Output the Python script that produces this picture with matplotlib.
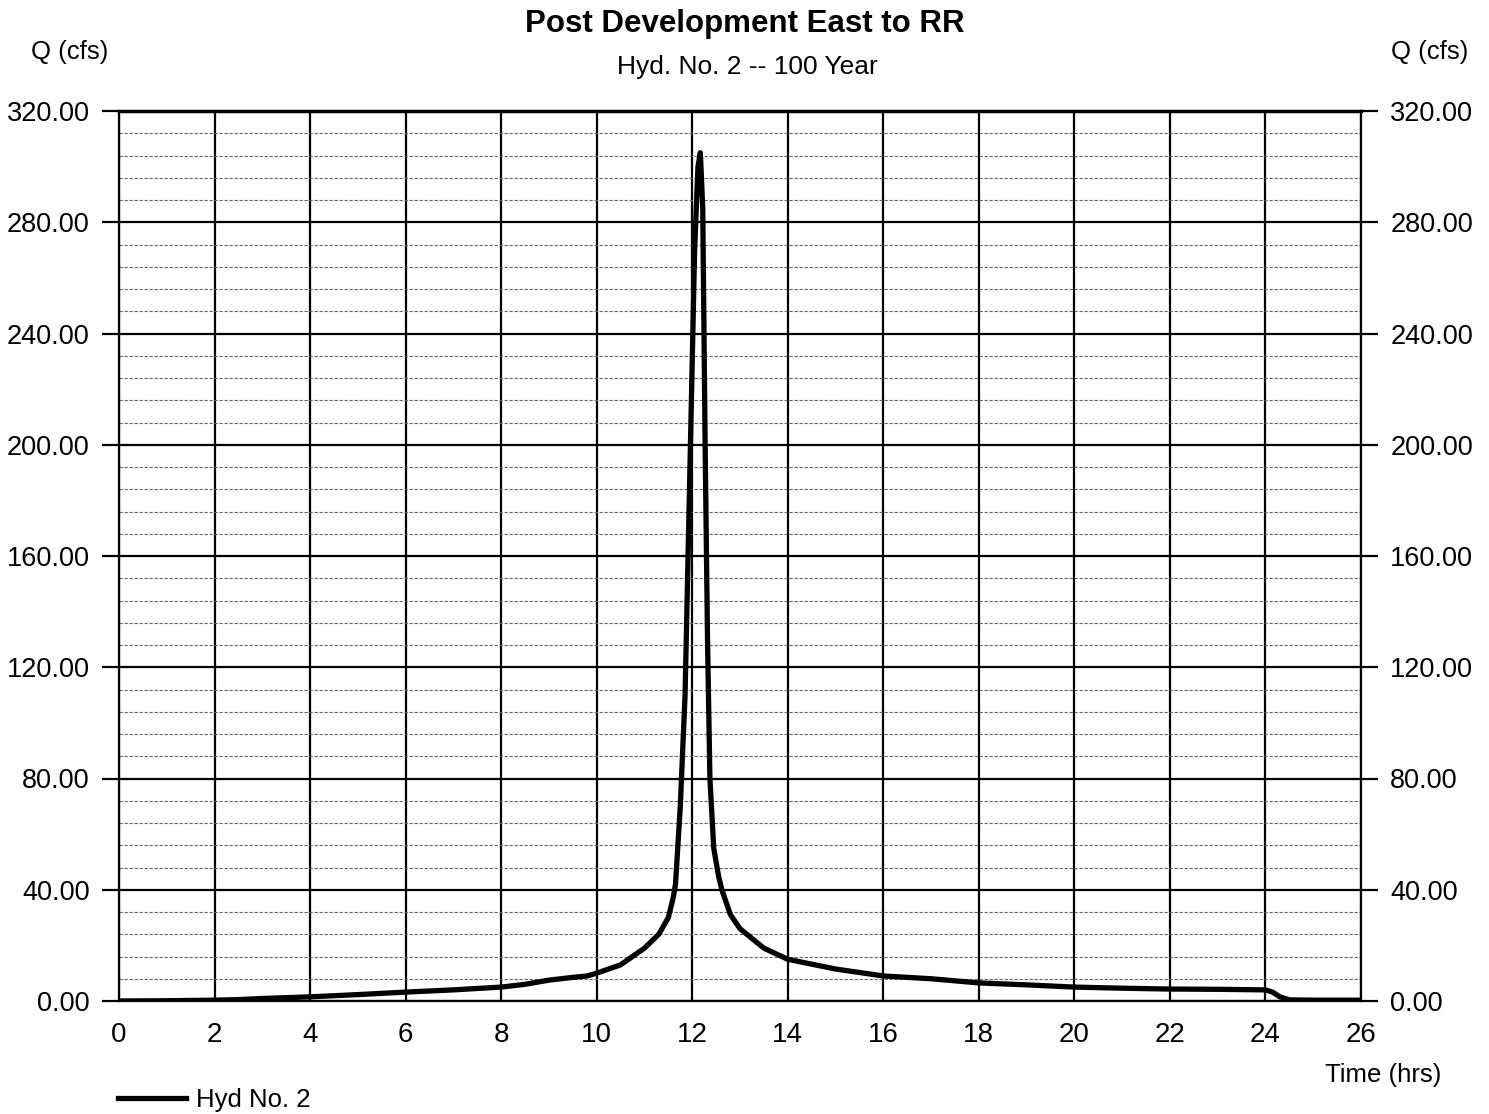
import numpy as np
import matplotlib.pyplot as plt
from matplotlib.ticker import MultipleLocator

plt.rcParams['font.family'] = ['Liberation Sans', 'DejaVu Sans']

# Hydrograph (time in hrs, flow in cfs)
time_hrs = [0.0, 1.0, 2.0, 2.5, 3.0, 4.0, 5.0, 6.0, 7.0, 8.0, 8.5, 9.0, 9.5, 9.8,
            10.0, 10.5, 11.0, 11.3, 11.5, 11.6, 11.65, 11.75, 11.85, 11.95, 12.05,
            12.12, 12.17, 12.22, 12.27, 12.32, 12.37, 12.45, 12.55, 12.62, 12.8, 13.0,
            13.5, 14.0, 15.0, 16.0, 17.0, 18.0, 19.0, 20.0, 21.0, 22.0, 23.0,
            24.0, 24.15, 24.3, 24.5, 25.0, 26.0]
flow_cfs = [0.0, 0.1, 0.3, 0.5, 0.9, 1.5, 2.3, 3.2, 4.0, 5.0, 6.0, 7.5, 8.5, 9.0,
            10.0, 13.0, 19.0, 24.0, 30.0, 37.0, 42.0, 70.0, 110.0, 190.0, 270.0,
            300.0, 305.0, 285.0, 200.0, 130.0, 80.0, 55.0, 45.0, 40.0, 31.0, 26.0,
            19.0, 15.0, 11.5, 9.0, 8.0, 6.5, 5.8, 5.0, 4.6, 4.3, 4.2,
            4.0, 3.2, 1.5, 0.4, 0.3, 0.3]

title = "Post Development East to RR"
subtitle = "Hyd. No. 2 -- 100 Year"
series_label = "Hyd No. 2"

fig = plt.figure(figsize=(14.89, 11.14), dpi=100)
ax = fig.add_axes([119 / 1489, 1 - 1001 / 1114, (1361 - 119) / 1489, (1001 - 111) / 1114])

ax.plot(time_hrs, flow_cfs, color='black', linewidth=3.8, zorder=5)

ax.set_xlim(0, 26)
ax.set_ylim(0, 320)
ax.xaxis.set_major_locator(MultipleLocator(2))
ax.yaxis.set_major_locator(MultipleLocator(40))
ax.yaxis.set_minor_locator(MultipleLocator(8))
ax.yaxis.set_major_formatter(lambda v, p: f"{v:.2f}")

ax.grid(which='major', color='black', linewidth=1.6)
ax.grid(which='minor', axis='y', color='#666666', linewidth=0.8, linestyle=(0, (3, 1.5)))
ax.set_axisbelow(True)

for s in ax.spines.values():
    s.set_linewidth(1.6)
ax.spines['top'].set_linewidth(2.5)

ax.tick_params(axis='y', which='major', length=12, width=1.6, labelsize=19.5,
               right=True, labelright=True, pad=9)
ax.tick_params(axis='y', which='minor', length=0)
ax.tick_params(axis='x', which='major', length=0, labelsize=20, pad=15)

fig.text(745 / 1489, 1 - 24 / 1114, title, ha='center', va='center',
         fontsize=22.5, fontweight='bold')
fig.text(747 / 1489, 1 - 67 / 1114, subtitle, ha='center', va='center', fontsize=19)
fig.text(70 / 1489, 1 - 52 / 1114, "Q (cfs)", ha='center', va='center', fontsize=18.5)
fig.text(1430 / 1489, 1 - 52 / 1114, "Q (cfs)", ha='center', va='center', fontsize=18.5)
fig.text(1383 / 1489, 1 - 1075 / 1114, "Time (hrs)", ha='center', va='center', fontsize=18.5)

fig.legend([ax.lines[0]], [series_label], loc='center left', frameon=False,
           bbox_to_anchor=(118 / 1489, 1 - 1100 / 1114), fontsize=18.5,
           handlelength=2.65, handletextpad=0.4, borderaxespad=0, borderpad=0)

fig.savefig('out.png', dpi=100)
